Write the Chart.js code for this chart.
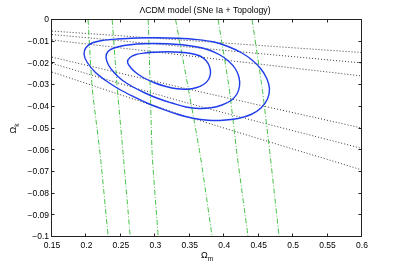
<!DOCTYPE html>
<html>
<head>
<meta charset="utf-8">
<script src="https://cdn.jsdelivr.net/npm/chart.js@4/dist/chart.umd.min.js"></script>
<style>
html,body{margin:0;padding:0;background:#fff;}
canvas{display:block;}
</style>
</head>
<body>
<canvas id="c" width="400" height="267"></canvas>
<script>
// ---- data (Omega_m, Omega_k) ----
const XTICKS = [0.15, 0.2, 0.25, 0.3, 0.35, 0.4, 0.45, 0.5, 0.55, 0.6];
const YTICKS = [0, -0.01, -0.02, -0.03, -0.04, -0.05, -0.06, -0.07, -0.08, -0.09, -0.1];

const CONTOUR_OUTER = [[0.2444,-0.00876],[0.2734,-0.00829],[0.3024,-0.00820],[0.3315,-0.00843],[0.3605,-0.00903],[0.3852,-0.01014],[0.4055,-0.01221],[0.4244,-0.01498],[0.4403,-0.01843],[0.4534,-0.02258],[0.4621,-0.02719],[0.4657,-0.03180],[0.4628,-0.03641],[0.4534,-0.04055],[0.4389,-0.04355],[0.4200,-0.04539],[0.3982,-0.04622],[0.3765,-0.04618],[0.3547,-0.04530],[0.3329,-0.04355],[0.3111,-0.04115],[0.2894,-0.03848],[0.2676,-0.03525],[0.2458,-0.03157],[0.2269,-0.02765],[0.2124,-0.02396],[0.2008,-0.01935],[0.1965,-0.01567],[0.1994,-0.01267],[0.2081,-0.01060],[0.2226,-0.00945]];
const CONTOUR_MIDDLE = [[0.2734,-0.01106],[0.2952,-0.01083],[0.3169,-0.01092],[0.3387,-0.01143],[0.3590,-0.01235],[0.3779,-0.01382],[0.3939,-0.01613],[0.4069,-0.01912],[0.4164,-0.02258],[0.4215,-0.02650],[0.4222,-0.03041],[0.4185,-0.03410],[0.4098,-0.03710],[0.3968,-0.03917],[0.3808,-0.04046],[0.3634,-0.04078],[0.3445,-0.04009],[0.3242,-0.03825],[0.3039,-0.03618],[0.2850,-0.03364],[0.2676,-0.03088],[0.2516,-0.02765],[0.2400,-0.02419],[0.2320,-0.02074],[0.2284,-0.01705],[0.2313,-0.01452],[0.2400,-0.01290],[0.2545,-0.01175]];
const CONTOUR_INNER = [[0.3010,-0.01484],[0.3184,-0.01465],[0.3358,-0.01484],[0.3518,-0.01544],[0.3648,-0.01659],[0.3735,-0.01866],[0.3786,-0.02143],[0.3801,-0.02442],[0.3772,-0.02742],[0.3699,-0.02972],[0.3590,-0.03124],[0.3460,-0.03189],[0.3315,-0.03171],[0.3155,-0.03065],[0.2995,-0.02903],[0.2850,-0.02696],[0.2734,-0.02465],[0.2647,-0.02212],[0.2596,-0.01935],[0.2632,-0.01728],[0.2719,-0.01590],[0.2850,-0.01521]];

const DOTTED_1 = [[0.15,-0.0051],[0.6,-0.0150]];
const DOTTED_2 = [[0.15,-0.0067],[0.6,-0.0198]];
const DOTTED_3 = [[0.15,-0.0092],[0.6,-0.0258]];
const DOTTED_4 = [[0.15,-0.0171],[0.3474,-0.0318],[0.6,-0.0498]];
const DOTTED_5 = [[0.15,-0.0200],[0.3474,-0.0383],[0.6,-0.0592]];
const DOTTED_6 = [[0.15,-0.0240],[0.3503,-0.0449],[0.6,-0.0691]];

const DASHDOT_1 = [[0.2024,0],[0.2084,-0.0313],[0.2200,-0.0622],[0.2316,-0.1]];
const DASHDOT_2 = [[0.2374,0],[0.2447,-0.0313],[0.2534,-0.0622],[0.2636,-0.1]];
const DASHDOT_3 = [[0.2897,0],[0.2926,-0.0313],[0.2955,-0.0622],[0.3042,-0.1]];
const DASHDOT_4 = [[0.3295,0],[0.3477,-0.0313],[0.3651,-0.0622],[0.3825,-0.1]];
const DASHDOT_5 = [[0.3912,0],[0.4071,-0.0313],[0.4187,-0.0622],[0.4347,-0.1]];
const DASHDOT_6 = [[0.4405,0],[0.4550,-0.0313],[0.4666,-0.0622],[0.4797,-0.1]];

// ---- styles ----
const BLUE = 'rgb(30,60,235)';
const GREEN = 'rgb(70,195,70)';
const DOT = '#3a3a3a';
const FONT = '"Liberation Sans", Arial, sans-serif';

const toXY = pts => pts.map(p => ({x: p[0], y: p[1]}));

function closedContour(pts) {
  const n = pts.length;
  const data = toXY([pts[n - 1], ...pts, pts[0], pts[1]]);
  const last = data.length - 1;
  return {
    data, showLine: true, tension: 0.35, borderColor: BLUE, borderWidth: 1.4,
    pointRadius: 0, fill: false,
    segment: {
      borderColor: ctx => (ctx.p0DataIndex === 0 || ctx.p1DataIndex === last) ? 'rgba(0,0,0,0)' : BLUE
    }
  };
}
const dotted = pts => ({data: toXY(pts), showLine: true, tension: 0.3, borderColor: DOT, borderWidth: 1, borderDash: [1, 2], pointRadius: 0, fill: false});
const dashdot = pts => ({data: toXY(pts), showLine: true, tension: 0.2, borderColor: GREEN, borderWidth: 1, borderDash: [5, 2, 1, 2], pointRadius: 0, fill: false});

const datasets = [
  closedContour(CONTOUR_INNER), closedContour(CONTOUR_MIDDLE), closedContour(CONTOUR_OUTER),
  dashdot(DASHDOT_1), dashdot(DASHDOT_2), dashdot(DASHDOT_3), dashdot(DASHDOT_4), dashdot(DASHDOT_5), dashdot(DASHDOT_6),
  dotted(DOTTED_1), dotted(DOTTED_2), dotted(DOTTED_3), dotted(DOTTED_4), dotted(DOTTED_5), dotted(DOTTED_6)
];

function fmt(v) {
  if (Math.abs(v) < 1e-9) return '0';
  return (v < 0 ? '\u2212' : '') + String(+Math.abs(v).toFixed(2));
}

const boxPlugin = {
  id: 'box',
  afterDraw(chart) {
    const {ctx, chartArea: a, scales: {x, y}} = chart;
    ctx.save();
    ctx.strokeStyle = '#222';
    ctx.lineWidth = 1;
    const L = Math.round(a.left) - 0.5, R = Math.round(a.right) - 0.5;
    const T = Math.round(a.top) - 0.5, B = Math.round(a.bottom) - 0.5;
    ctx.strokeRect(L, T, R - L, B - T);
    const tl = 3;
    ctx.beginPath();
    XTICKS.forEach(v => {
      const px = Math.round(x.getPixelForValue(v)) - 0.5;
      ctx.moveTo(px, B); ctx.lineTo(px, B - tl);
      ctx.moveTo(px, T); ctx.lineTo(px, T + tl);
    });
    YTICKS.forEach(v => {
      const py = Math.round(y.getPixelForValue(v)) - 0.5;
      ctx.moveTo(L, py); ctx.lineTo(L + tl, py);
      ctx.moveTo(R, py); ctx.lineTo(R - tl, py);
    });
    ctx.stroke();

    // texts
    ctx.fillStyle = '#000';
    ctx.textBaseline = 'middle';
    ctx.textAlign = 'center';
    ctx.font = '8.7px ' + FONT;
    ctx.fillText('\u039BCDM model (SNe Ia + Topology)', (a.left + a.right) / 2 - 2, 11);

    // x label  Ω_m
    ctx.textBaseline = 'alphabetic';
    ctx.textAlign = 'left';
    ctx.font = '9px ' + FONT;
    const wO = ctx.measureText('\u03A9').width;
    const cx = (a.left + a.right) / 2 - 6;
    ctx.fillText('\u03A9', cx, 258);
    ctx.font = '6.5px ' + FONT;
    ctx.fillText('m', cx + wO, 261);

    // y label  Ω_k rotated
    ctx.save();
    ctx.translate(16, (a.top + a.bottom) / 2 + 5);
    ctx.rotate(-Math.PI / 2);
    ctx.font = '9px ' + FONT;
    ctx.fillText('\u03A9', 0, 0);
    ctx.font = '6.5px ' + FONT;
    ctx.fillText('k', wO, 3);
    ctx.restore();
    ctx.restore();
  }
};

const tickFont = {family: FONT, size: 8.5};
new Chart(document.getElementById('c'), {
  type: 'scatter',
  data: {datasets},
  options: {
    responsive: false,
    animation: false,
    events: [],
    layout: {padding: {top: 20, right: 38, left: 0, bottom: 0}},
    plugins: {legend: {display: false}, tooltip: {enabled: false}, title: {display: false}},
    scales: {
      x: {
        type: 'linear', min: 0.15, max: 0.6,
        grid: {display: false, drawTicks: false}, border: {display: false},
        afterFit(s) { s.height = 30; },
        afterBuildTicks(s) { s.ticks = XTICKS.map(v => ({value: v})); },
        ticks: {autoSkip: false, maxRotation: 0, minRotation: 0, padding: 4, color: '#000', font: tickFont, callback: v => fmt(v)}
      },
      y: {
        type: 'linear', min: -0.1, max: 0,
        grid: {display: false, drawTicks: false}, border: {display: false},
        afterFit(s) { s.width = 52; },
        afterBuildTicks(s) { s.ticks = YTICKS.map(v => ({value: v})); },
        ticks: {autoSkip: false, padding: 3, color: '#000', font: tickFont, callback: v => fmt(v)}
      }
    }
  },
  plugins: [boxPlugin]
});
</script>
</body>
</html>
